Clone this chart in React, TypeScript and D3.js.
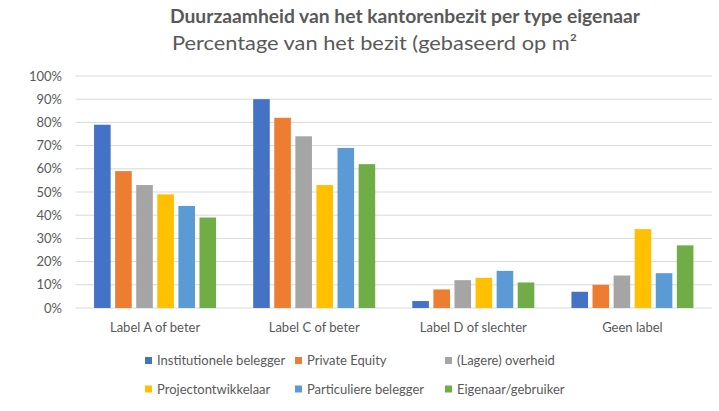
import React from "react";
import * as d3 from "d3";

const categories = ["Label A of beter", "Label C of beter", "Label D of slechter", "Geen label"];
const seriesNames = [
  "Institutionele belegger",
  "Private Equity",
  "(Lagere) overheid",
  "Projectontwikkelaar",
  "Particuliere belegger",
  "Eigenaar/gebruiker",
];
const seriesColors = ["#4472C4", "#ED7D31", "#A5A5A5", "#FFC000", "#5B9BD5", "#70AD47"];
const institutioneel = [0.79, 0.9, 0.03, 0.07];
const privateEquity = [0.59, 0.82, 0.08, 0.1];
const overheid = [0.53, 0.74, 0.12, 0.14];
const projectontwikkelaar = [0.49, 0.53, 0.13, 0.34];
const particulier = [0.44, 0.69, 0.16, 0.15];
const eigenaar = [0.39, 0.62, 0.11, 0.27];
const seriesValues = [institutioneel, privateEquity, overheid, projectontwikkelaar, particulier, eigenaar];
const yTicks = [0, 0.1, 0.2, 0.3, 0.4, 0.5, 0.6, 0.7, 0.8, 0.9, 1.0];

const W = 719;
const H = 411;
const font = "Lato, 'Open Sans', sans-serif";
const textColor = "#595959";

export default function App() {
  const plotLeft = 75.5;
  const plotRight = 712;
  const plotTop = 76;
  const plotBottom = 308;

  const x0 = d3.scaleBand<string>().domain(categories).range([plotLeft, plotRight]).paddingInner(0).paddingOuter(0);
  const x1 = d3
    .scaleBand<string>()
    .domain(seriesNames)
    .range([0, x0.bandwidth()])
    .paddingInner(0.213)
    .paddingOuter(0.88);
  const y = d3.scaleLinear().domain([0, 1]).range([plotBottom, plotTop]);

  const legendCols = [145, 295, 445];
  const legendRows = [360.5, 389];

  return (
    <svg width={W} height={H} style={{ position: "absolute", left: 0, top: 0, display: "block" }}>
      <rect x={0} y={0} width={W} height={H} fill="#ffffff" />
      <text
        x={405}
        y={23}
        textAnchor="middle"
        fontFamily={font}
        fontWeight="bold"
        fontSize={19}
        fill={textColor}
        textLength={470}
        lengthAdjust="spacingAndGlyphs"
      >
        Duurzaamheid van het kantorenbezit per type eigenaar
      </text>
      <text
        x={374.5}
        y={50}
        textAnchor="middle"
        fontFamily={font}
        fontSize={19}
        fill={textColor}
        textLength={405}
        lengthAdjust="spacingAndGlyphs"
      >
        Percentage van het bezit (gebaseerd op m²
      </text>

      {yTicks.map((t) => (
        <g key={t}>
          <line x1={plotLeft} x2={plotRight} y1={y(t)} y2={y(t)} stroke="#d9d9d9" strokeWidth={1} />
          <text
            x={62}
            y={y(t)}
            dy="0.35em"
            textAnchor="end"
            fontFamily={font}
            fontSize={13}
            fill={textColor}
          >
            {d3.format(".0%")(t)}
          </text>
        </g>
      ))}

      {categories.map((c, ci) => (
        <g key={c} transform={`translate(${x0(c)},0)`}>
          {seriesNames.map((s, si) => {
            const v = seriesValues[si][ci];
            return (
              <rect
                key={s}
                x={x1(s)}
                y={y(v)}
                width={x1.bandwidth()}
                height={plotBottom - y(v)}
                fill={seriesColors[si]}
              />
            );
          })}
          <text
            x={x0.bandwidth() / 2}
            y={327}
            dy="0.35em"
            textAnchor="middle"
            fontFamily={font}
            fontSize={13}
            fill={textColor}
          >
            {c}
          </text>
        </g>
      ))}

      {seriesNames.map((s, si) => {
        const cx = legendCols[si % 3];
        const cy = legendRows[Math.floor(si / 3)];
        return (
          <g key={s}>
            <rect x={cx} y={cy - 3.5} width={7} height={7} fill={seriesColors[si]} />
            <text x={cx + 12} y={cy} dy="0.35em" fontFamily={font} fontSize={13} fill={textColor}>
              {s}
            </text>
          </g>
        );
      })}
    </svg>
  );
}
